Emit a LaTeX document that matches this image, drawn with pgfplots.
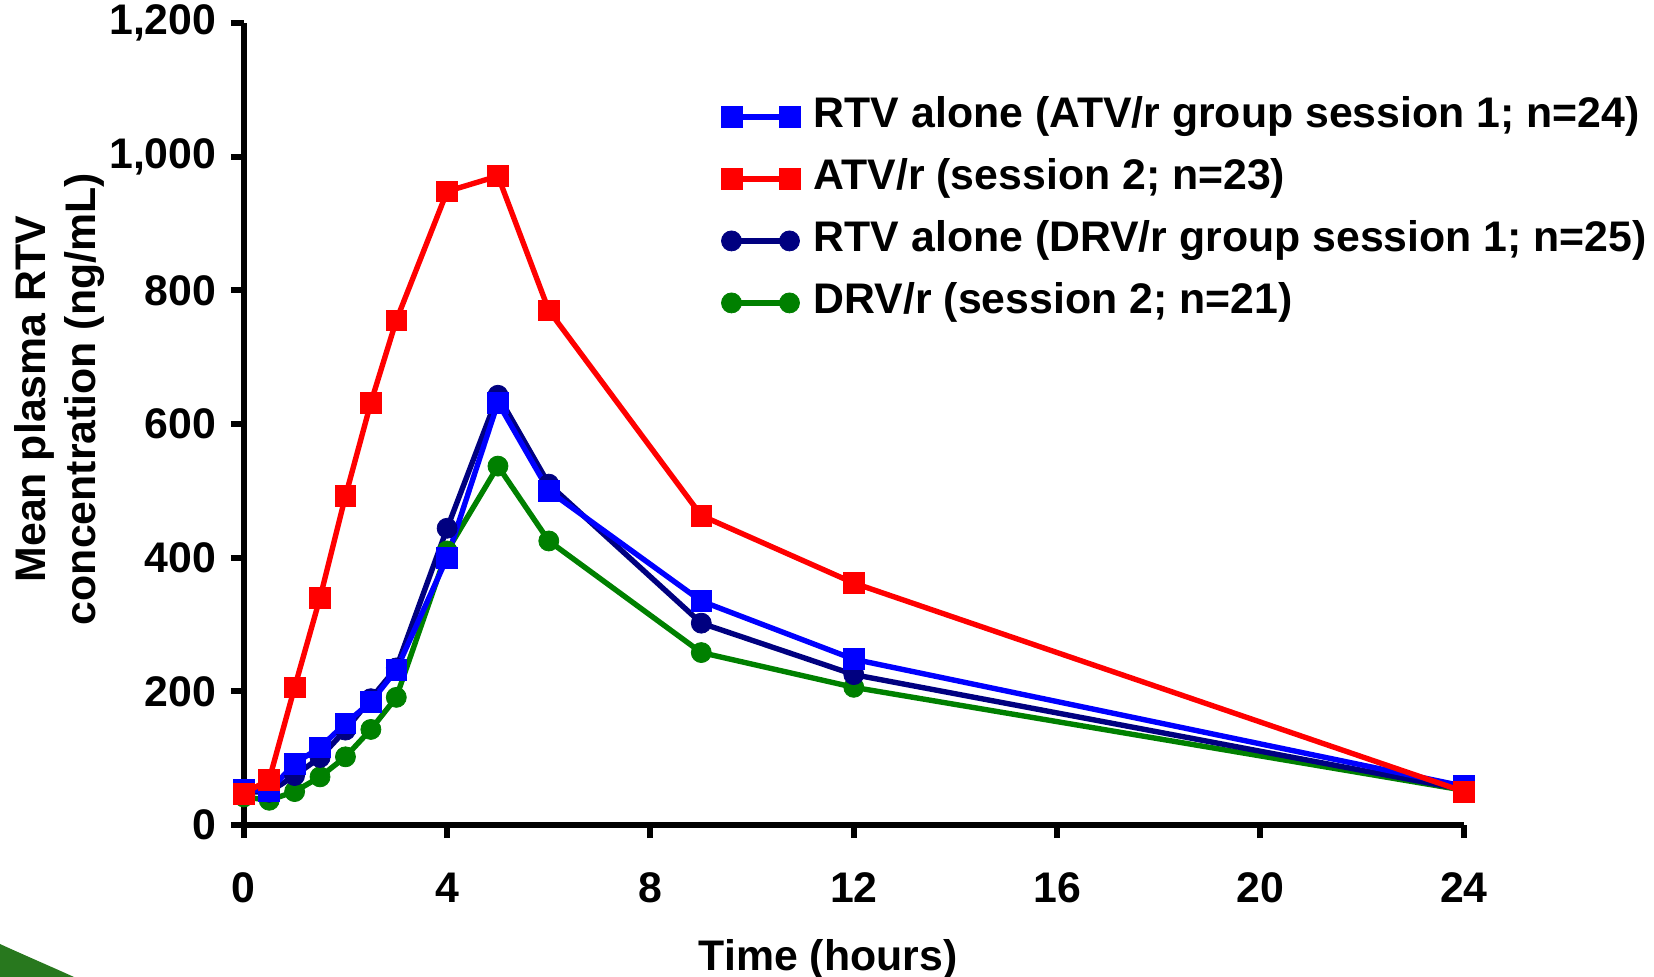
\documentclass[border=0pt]{standalone}
\usepackage{fontspec}
\setmainfont{Liberation Sans}
\usepackage{pgfplots}
\pgfplotsset{compat=1.18}
\definecolor{cblue}{RGB}{0,0,255}
\definecolor{cred}{RGB}{255,0,0}
\definecolor{cnavy}{RGB}{0,0,128}
\definecolor{cgreen}{RGB}{0,128,0}
\definecolor{swoosh}{RGB}{40,120,30}
\begin{document}
\begin{tikzpicture}[font=\fontsize{21.4bp}{25.3bp}\selectfont\bfseries]
\begin{axis}[
  at={(121.9bp,76bp)}, anchor=south west,
  scale only axis, width=610bp, height=401bp,
  xmin=0, xmax=24, ymin=0, ymax=1200,
  xtick={0,4,8,12,16,20,24},
  ytick={0,200,400,600,800,1000,1200},
  axis x line*=bottom, axis y line*=left,
  axis line style={line width=3bp, black},
  tick align=outside,
  major tick length=6.5bp,
  every tick/.style={line width=3bp, black},
  minor tick num=0,
  clip=false,
  /pgf/number format/1000 sep={,},
  /pgf/number format/assume math mode=true,
  xticklabel style={anchor=base, inner sep=0pt, yshift=-32.3bp},
  yticklabel style={anchor=east, inner sep=0pt, xshift=-7bp},
  xlabel={Time (hours)},
  xlabel style={at={(rel axis cs:0.479,-0.1808)}, anchor=base, inner sep=0pt},
  ylabel={Mean plasma RTV\\concentration (ng/mL)},
  ylabel style={at={(rel axis cs:-0.151,0.531)}, anchor=center, align=center, inner sep=0pt},
  legend style={draw=none, fill=none, at={(0.386,0.917)}, anchor=north west,
    row sep=8bp, column sep=5bp,
    nodes={inner sep=2bp, text height=15bp, text depth=4bp}},
  legend cell align=left,
  legend image code/.code={\draw[#1] plot coordinates {(0bp,0bp) (29bp,0bp)};},
]
\addlegendimage{cblue, line width=2.7bp, mark=square*, mark size=5.2bp, mark options={line width=0.4bp}}
\addlegendentry{RTV alone (ATV/r group session 1; n=24)}
\addlegendimage{cred, line width=2.7bp, mark=square*, mark size=5.2bp, mark options={line width=0.4bp}}
\addlegendentry{ATV/r (session 2; n=23)}
\addlegendimage{cnavy, line width=2.7bp, mark=*, mark size=5bp, mark options={line width=0.4bp}}
\addlegendentry{RTV alone (DRV/r group session 1; n=25)}
\addlegendimage{cgreen, line width=2.7bp, mark=*, mark size=5bp, mark options={line width=0.4bp}}
\addlegendentry{DRV/r (session 2; n=21)}

% DRV/r session 2
\addplot[cgreen, line width=2.7bp, mark=*, mark size=5bp, mark options={line width=0.4bp}, forget plot] coordinates {
(0,42) (0.5,37) (1,50) (1.5,72) (2,102) (2.5,143) (3,191) (4,410) (5,537) (6,425) (9,258) (12,206) (24,52)};
% RTV alone DRV/r group
\addplot[cnavy, line width=2.7bp, mark=*, mark size=5bp, mark options={line width=0.4bp}, forget plot] coordinates {
(0,50) (0.5,49) (1,74) (1.5,101) (2,142) (2.5,189) (3,235) (4,444) (5,643) (6,510) (9,302) (12,225) (24,53)};
% RTV alone ATV/r group
\addplot[cblue, line width=2.7bp, mark=square*, mark size=5.2bp, mark options={line width=0.4bp}, forget plot] coordinates {
(0,53) (0.5,51) (1,92) (1.5,116) (2,152) (2.5,184) (3,232) (4,400) (5,632) (6,500) (9,335) (12,248) (24,58)};
% ATV/r session 2
\addplot[cred, line width=2.7bp, mark=square*, mark size=5.2bp, mark options={line width=0.4bp}, forget plot] coordinates {
(0,47) (0.5,68) (1,206) (1.5,340) (2,492) (2.5,632) (3,755) (4,948) (5,971) (6,770) (9,463) (12,362) (24,50)};
\end{axis}
\fill[swoosh] (0bp,0bp) -- (0bp,16.5bp) .. controls (12bp,11bp) and (26bp,5bp) .. (37bp,0bp) -- cycle;
\pgfresetboundingbox
\path (0,0) rectangle (827bp,488.5bp);
\end{tikzpicture}
\end{document}
